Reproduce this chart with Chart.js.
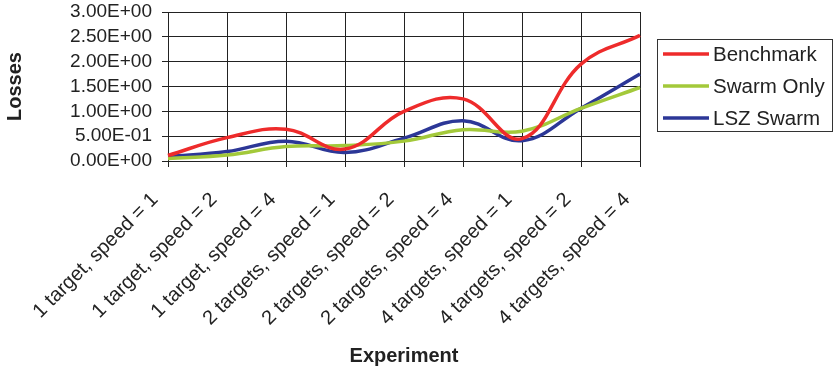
<!DOCTYPE html>
<html>
<head>
<meta charset="utf-8">
<script src="https://cdn.jsdelivr.net/npm/chart.js@4.4.0/dist/chart.umd.min.js"></script>
<style>
  html, body { margin: 0; padding: 0; background: #fff; }
  #wrap { width: 833px; height: 372px; }
</style>
</head>
<body>
<div id="wrap"><canvas id="lossChart" width="833" height="372"></canvas></div>
<script>
const categories = [
  '1 target, speed = 1', '1 target, speed = 2', '1 target, speed = 4',
  '2 targets, speed = 1', '2 targets, speed = 2', '2 targets, speed = 4',
  '4 targets, speed = 1', '4 targets, speed = 2', '4 targets, speed = 4'
];
const benchmark = [0.11, 0.47, 0.64, 0.24, 1.00, 1.25, 0.45, 1.95, 2.53];
const swarmOnly = [0.05, 0.12, 0.29, 0.31, 0.40, 0.63, 0.60, 1.06, 1.48];
const lszSwarm  = [0.09, 0.19, 0.40, 0.17, 0.46, 0.81, 0.41, 1.06, 1.75];
const yTicks = [0, 0.5, 1, 1.5, 2, 2.5, 3];

// Excel style scientific label, e.g. 5.00E-01
function sci(v) {
  if (v === 0) return '0.00E+00';
  const e = Math.floor(Math.log10(Math.abs(v)) + 1e-9);
  const m = v / Math.pow(10, e);
  return m.toFixed(2) + 'E' + (e < 0 ? '-' : '+') + String(Math.abs(e)).padStart(2, '0');
}

// legend drawn as a framed box on the right
const boxLegend = {
  id: 'boxLegend',
  afterDraw(chart) {
    const ctx = chart.ctx;
    ctx.save();
    ctx.strokeStyle = '#333';
    ctx.lineWidth = 1;
    ctx.strokeRect(657.5, 39.5, 175, 92);
    ctx.font = '20.5px "Liberation Sans", Arial, sans-serif';
    ctx.textBaseline = 'middle';
    chart.data.datasets.forEach((ds, i) => {
      const y = 54 + i * 32;
      ctx.strokeStyle = ds.borderColor;
      ctx.lineWidth = 3.5;
      ctx.beginPath();
      ctx.moveTo(663, y);
      ctx.lineTo(709, y);
      ctx.stroke();
      ctx.fillStyle = '#222';
      ctx.fillText(ds.label, 713, y + 1);
    });
    ctx.restore();
  }
};

const ctx = document.getElementById('lossChart').getContext('2d');
const lossChart = new Chart(ctx, {
  type: 'line',
  data: {
    labels: categories,
    datasets: [
      { label: 'Benchmark', data: benchmark, borderColor: '#ee2b2b' },
      { label: 'Swarm Only', data: swarmOnly, borderColor: '#a3c93a' },
      { label: 'LSZ Swarm', data: lszSwarm, borderColor: '#2c3797' }
    ].map(d => Object.assign(d, { borderWidth: 3.5, pointRadius: 0, tension: 0.4, fill: false }))
  },
  options: {
    responsive: false,
    animation: false,
    layout: { padding: { top: 0, right: 193, bottom: 0, left: 0 } },
    plugins: { legend: { display: false }, tooltip: { enabled: false } },
    scales: {
      x: {
        offset: false,
        grid: { color: '#222', lineWidth: 1, tickLength: 6, offset: false },
        border: { color: '#222' },
        ticks: {
          color: '#222', minRotation: 45, maxRotation: 45, padding: 21, autoSkip: false,
          labelOffset: -13,
          font: { family: '"Liberation Sans", Arial, sans-serif', size: 20 }
        },
        title: {
          display: true, text: 'Experiment', color: '#222',
          font: { family: '"Liberation Sans", Arial, sans-serif', size: 20, weight: 'bold' },
          padding: { top: 0, bottom: 4 }
        },
        afterFit(scale) { scale.height = 211; }
      },
      y: {
        min: 0, max: 3,
        afterBuildTicks(scale) { scale.ticks = yTicks.map(v => ({ value: v })); },
        grid: { color: '#222', lineWidth: 1, tickLength: 6 },
        border: { color: '#222' },
        ticks: {
          color: '#222', padding: 10, autoSkip: false,
          font: { family: '"Liberation Sans", Arial, sans-serif', size: 19 },
          callback: v => sci(v)
        },
        title: {
          display: true, text: 'Losses', color: '#222',
          font: { family: '"Liberation Sans", Arial, sans-serif', size: 20, weight: 'bold' },
          padding: { top: 3, bottom: 0 }
        },
        afterFit(scale) { scale.width = 168; scale.paddingTop = 12; }
      }
    }
  },
  plugins: [boxLegend]
});
</script>
</body>
</html>
